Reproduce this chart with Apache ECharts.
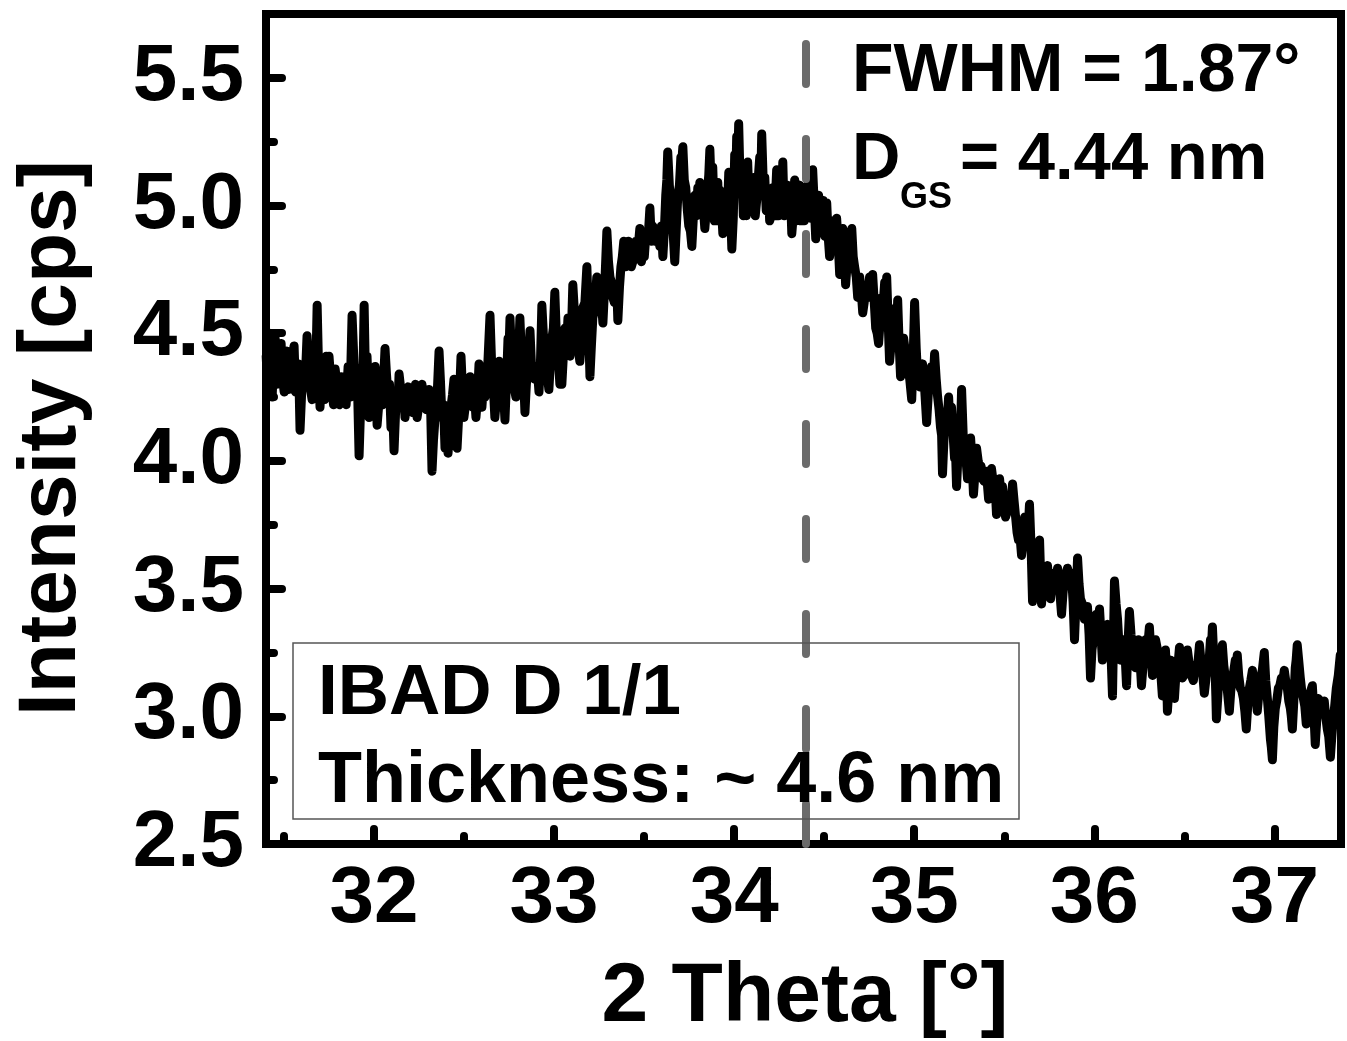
<!DOCTYPE html>
<html>
<head>
<meta charset="utf-8">
<script src="https://cdn.jsdelivr.net/npm/echarts@6/dist/echarts.min.js"></script>
<style>
html,body{margin:0;padding:0;background:#fff;}
#chart{width:1347px;height:1041px;}
</style>
</head>
<body>
<div id="chart"></div>
<script>
// ---- data: spike extremes ----
const theta = [
31.401,31.417,31.434,31.451,31.467,31.484,31.501,31.517,31.534,31.556,
31.573,31.589,31.606,31.628,31.645,31.667,31.684,31.700,31.717,31.734,
31.750,31.767,31.784,31.800,31.817,31.834,31.856,31.878,31.900,31.917,
31.933,31.945,31.961,31.972,31.989,32.006,32.017,32.033,32.061,32.078,
32.094,32.111,32.128,32.139,32.155,32.172,32.189,32.205,32.222,32.239,
32.255,32.277,32.305,32.322,32.339,32.361,32.377,32.394,32.411,32.427,
32.444,32.461,32.483,32.499,32.516,32.533,32.549,32.566,32.583,32.599,
32.616,32.644,32.660,32.671,32.694,32.710,32.727,32.744,32.755,32.771,
32.788,32.810,32.827,32.838,32.855,32.866,32.882,32.899,32.916,32.932,
32.949,32.971,32.988,33.004,33.021,33.032,
33.043,33.060,33.077,33.088,33.104,33.121,33.143,33.160,33.182,33.199,
33.215,33.237,33.254,33.271,33.293,33.310,33.326,33.343,33.354,33.371,
33.387,33.404,33.421,33.437,33.454,33.476,33.493,33.509,33.532,33.548,
33.565,33.587,33.604,33.620,33.631,33.648,33.670,33.687,33.704,33.715,
33.731,33.748,33.765,33.781,33.798,33.809,33.826,33.837,33.853,33.865,
33.881,33.898,33.909,33.920,33.937,33.953,33.970,33.987,34.003,34.014,
34.025,34.042,34.059,34.075,34.092,34.109,34.125,34.142,34.153,34.170,
34.186,34.197,34.214,34.236,34.253,34.270,34.286,34.303,34.320,34.336,
34.353,34.370,34.381,34.397,34.414,34.436,34.453,34.469,34.486,34.503,
34.514,34.530,34.547,34.569,34.586,
34.603,34.619,34.636,34.653,34.669,34.686,34.697,34.714,34.730,34.752,
34.769,34.786,34.802,34.819,34.836,34.847,34.863,34.880,34.897,34.908,
34.924,34.941,34.963,34.986,35.002,35.019,35.030,35.046,35.069,35.085,
35.096,35.113,35.130,35.146,35.157,35.174,35.191,35.207,35.224,35.235,
35.252,35.263,35.280,35.296,35.313,35.329,35.346,35.363,35.379,35.396,
35.413,35.429,35.446,35.457,35.474,35.490,35.507,
35.524,35.546,35.563,35.579,35.596,35.613,35.629,35.640,35.657,35.674,
35.696,35.707,35.723,35.740,35.757,35.773,35.796,35.818,35.834,35.851,
35.873,35.890,35.907,35.923,35.945,35.962,35.979,35.995,36.012,36.029,
36.045,36.062,36.084,36.101,36.112,36.129,36.145,36.162,36.179,36.195,
36.212,36.229,36.245,36.262,36.284,36.306,36.323,36.340,36.362,36.378,
36.395,
36.406,36.423,36.445,36.462,36.473,36.489,36.506,36.517,36.539,36.561,
36.584,36.600,36.611,36.628,36.645,36.656,36.672,36.678,36.695,36.711,
36.728,36.750,36.767,36.783,36.794,36.811,36.828,36.844,36.861,36.878,
36.889,36.905,36.922,36.944,36.961,36.978,36.989,37.005,37.022,37.039,
37.055,37.072,37.089,37.100,37.116,37.127,37.144,37.161,37.177,37.194,
37.211,37.227,37.244,37.261,37.277,37.294,37.311,37.327,37.344,37.366
];
const intensity = [
4.41,4.50,4.25,4.48,4.37,4.46,4.27,4.43,4.35,4.45,
4.33,4.12,4.37,4.49,4.29,4.41,4.61,4.21,4.31,4.41,
4.41,4.27,4.36,4.23,4.33,4.25,4.37,4.57,4.33,4.02,
4.25,4.61,4.41,4.17,4.27,4.37,4.14,4.27,4.44,4.25,
4.13,4.04,4.27,4.34,4.21,4.17,4.29,4.21,4.27,4.17,
4.27,4.23,4.28,3.96,4.17,4.43,4.17,4.05,4.03,4.21,
4.32,4.05,4.41,4.17,4.27,4.33,4.21,4.17,4.38,4.21,
4.25,4.57,4.33,4.17,4.39,4.21,4.16,4.48,4.56,4.33,
4.25,4.56,4.29,4.19,4.37,4.51,4.33,4.37,4.27,4.61,
4.44,4.28,4.48,4.66,4.41,4.30,
4.30,4.52,4.56,4.41,4.69,4.52,4.39,4.60,4.76,4.33,
4.56,4.72,4.64,4.54,4.90,4.72,4.64,4.68,4.55,4.76,
4.86,4.80,4.82,4.78,4.86,4.91,4.82,4.88,4.99,4.92,
4.86,4.84,4.80,5.04,5.21,5.00,4.78,5.04,5.19,5.23,
5.07,4.92,4.84,5.04,5.07,5.09,5.00,4.91,5.07,5.22,
5.15,5.04,5.09,5.06,4.89,5.04,5.13,4.83,5.20,5.27,
5.32,5.15,5.07,5.17,5.02,5.11,5.02,5.19,5.28,5.11,
5.04,4.94,5.07,5.14,5.09,5.17,5.04,4.98,4.89,5.10,
5.04,4.94,5.07,4.98,5.06,5.14,4.87,5.04,5.00,4.88,
5.01,4.80,4.94,4.95,4.73,
4.91,4.69,4.84,4.91,4.76,4.64,4.72,4.58,4.68,4.72,
4.73,4.52,4.46,4.64,4.70,4.72,4.39,4.52,4.60,4.63,
4.33,4.48,4.37,4.24,4.62,4.33,4.29,4.38,4.15,4.33,
4.37,4.42,4.25,4.13,3.95,4.17,4.25,4.21,4.01,3.90,
4.17,4.28,4.05,3.93,4.09,3.87,4.05,3.97,3.93,3.96,
3.85,3.97,3.89,3.79,3.93,3.90,3.78,
3.85,3.91,3.78,3.69,3.63,3.78,3.74,3.83,3.45,3.62,
3.69,3.44,3.54,3.59,3.46,3.56,3.58,3.40,3.54,3.58,
3.56,3.30,3.62,3.46,3.38,3.43,3.15,3.30,3.40,3.42,
3.22,3.34,3.30,3.08,3.53,3.38,3.22,3.30,3.12,3.41,
3.26,3.19,3.30,3.12,3.30,3.35,3.16,3.30,3.22,3.08,
3.26,
3.02,3.22,3.07,3.19,3.27,3.15,3.22,3.26,3.16,3.20,
3.28,3.19,3.09,3.22,3.30,3.35,3.15,2.99,3.19,3.28,
3.15,3.02,3.15,3.22,3.24,3.11,3.07,2.95,3.11,3.18,
3.15,3.02,3.15,3.25,3.07,2.91,2.83,3.03,3.11,3.15,
3.18,3.11,3.03,2.95,3.19,3.28,3.15,3.07,2.97,3.07,
3.12,2.89,3.07,3.05,3.06,2.95,2.84,2.99,3.11,3.24
];
// ---- data: the dense band between the spikes ----
const thetaBand = [
31.409,31.426,31.442,31.459,31.476,31.492,31.509,31.526,31.545,31.564,
31.581,31.597,31.617,31.636,31.656,31.676,31.692,31.708,31.725,31.742,
31.758,31.775,31.792,31.808,31.825,31.845,31.867,31.889,31.908,31.925,
31.939,31.953,31.967,31.980,31.997,32.011,32.025,32.047,32.069,32.086,
32.103,32.119,32.133,32.147,32.164,32.180,32.197,32.214,32.230,32.247,
32.266,32.291,32.313,32.330,32.350,32.369,32.386,32.402,32.419,32.436,
32.452,32.472,32.491,32.508,32.524,32.541,32.558,32.574,32.591,32.608,
32.630,32.652,32.666,32.683,32.702,32.719,32.735,32.749,32.763,32.780,
32.799,32.819,32.832,32.846,32.860,32.874,32.891,32.907,32.924,32.940,
32.960,32.979,32.996,33.012,33.027,33.038,33.052,33.069,33.083,33.096,
33.113,33.132,33.152,33.171,33.191,33.207,33.226,33.246,33.263,33.282,
33.302,33.318,33.335,33.349,33.363,33.379,33.396,33.413,33.429,33.446,
33.465,33.485,33.501,33.521,33.540,33.557,33.576,33.596,33.612,33.626,
33.640,33.659,33.679,33.696,33.710,33.723,33.740,33.757,33.773,33.790,
33.804,33.818,33.832,33.845,33.859,33.873,33.890,33.904,33.915,33.929,
33.945,33.962,33.979,33.995,34.009,34.020,34.034,34.051,34.067,34.084,
34.101,34.117,34.134,34.148,34.162,34.178,34.192,34.206,34.225,34.245,
34.262,34.278,34.295,34.312,34.328,34.345,34.362,34.376,34.389,34.406,
34.425,34.445,34.461,34.478,34.495,34.509,34.522,34.539,34.558,34.578,
34.595,34.611,34.628,34.645,34.661,34.678,34.692,34.706,34.722,34.741,
34.761,34.778,34.794,34.811,34.828,34.842,34.855,34.872,34.889,34.903,
34.916,34.933,34.952,34.975,34.994,35.011,35.025,35.038,35.058,35.077,
35.091,35.105,35.122,35.138,35.152,35.166,35.183,35.199,35.216,35.230,
35.244,35.258,35.272,35.288,35.305,35.321,35.338,35.355,35.371,35.388,
35.405,35.421,35.438,35.452,35.466,35.482,35.499,35.516,35.535,35.555,
35.571,35.588,35.605,35.621,35.635,35.649,35.666,35.685,35.702,35.715,
35.732,35.749,35.765,35.785,35.807,35.826,35.843,35.862,35.882,35.899,
35.915,35.934,35.954,35.971,35.987,36.004,36.021,36.037,36.054,36.073,
36.093,36.107,36.121,36.137,36.154,36.171,36.187,36.204,36.221,36.237,
36.254,36.273,36.295,36.315,36.332,36.351,36.370,36.387,36.401,36.415,
36.434,36.453,36.467,36.481,36.497,36.511,36.528,36.550,36.572,36.592,
36.605,36.619,36.636,36.650,36.664,36.675,36.686,36.703,36.719,36.739,
36.758,36.775,36.789,36.802,36.819,36.836,36.852,36.869,36.883,36.897,
36.913,36.933,36.952,36.969,36.983,36.997,37.013,37.030,37.047,37.063,
37.080,37.094,37.108,37.121,37.135,37.152,37.169,37.185,37.202,37.219,
37.235,37.252,37.269,37.285,37.302,37.319,37.335,37.355
];
const intensityBand = [
4.30,4.36,4.38,4.30,4.40,4.32,4.38,4.28,4.40,4.27,
4.38,4.25,4.30,4.40,4.24,4.33,4.36,4.32,4.24,4.27,
4.33,4.22,4.31,4.22,4.30,4.22,4.25,4.38,4.30,4.20,
4.35,4.30,4.30,4.21,4.24,4.30,4.21,4.22,4.34,4.30,
4.22,4.18,4.22,4.29,4.27,4.22,4.26,4.19,4.30,4.21,
4.30,4.20,4.25,4.08,4.25,4.31,4.22,4.15,4.12,4.26,
4.20,4.20,4.28,4.22,4.23,4.28,4.26,4.24,4.30,4.30,
4.35,4.40,4.24,4.27,4.30,4.27,4.30,4.42,4.42,4.28,
4.33,4.40,4.30,4.30,4.42,4.38,4.32,4.36,4.38,4.50,
4.35,4.38,4.52,4.50,4.36,4.38,4.42,4.45,4.48,4.50,
4.58,4.45,4.48,4.62,4.55,4.45,4.60,4.60,4.62,4.70,
4.78,4.70,4.62,4.66,4.68,4.80,4.76,4.86,4.76,4.84,
4.82,4.78,4.80,4.86,4.86,4.90,4.90,4.92,4.90,5.10,
5.08,4.92,4.92,5.08,5.18,5.10,4.98,4.90,4.95,4.96,
4.98,5.04,4.96,4.98,5.12,5.06,4.94,4.94,4.94,5.00,
4.95,4.96,5.00,4.95,5.10,5.15,5.06,4.96,4.96,4.98,
5.00,4.96,5.02,5.10,5.08,4.98,5.06,4.96,4.96,4.96,
4.97,4.96,5.08,5.06,4.96,4.94,5.08,4.96,4.94,5.08,
4.95,5.00,5.02,4.92,5.02,4.95,4.88,4.86,4.88,4.85,
4.80,4.82,4.78,4.82,4.80,4.72,4.66,4.66,4.62,4.64,
4.66,4.62,4.50,4.55,4.62,4.60,4.55,4.46,4.50,4.52,
4.46,4.40,4.42,4.32,4.40,4.44,4.30,4.33,4.28,4.25,
4.30,4.30,4.32,4.20,4.10,4.10,4.16,4.12,4.10,4.02,
4.04,4.15,4.10,4.00,3.98,4.00,3.96,4.00,3.98,3.92,
3.92,3.90,3.92,3.86,3.84,3.86,3.83,3.80,3.82,3.84,
3.72,3.70,3.68,3.72,3.76,3.66,3.56,3.62,3.55,3.52,
3.56,3.52,3.52,3.53,3.50,3.48,3.54,3.52,3.45,3.46,
3.52,3.44,3.42,3.32,3.26,3.36,3.36,3.32,3.30,3.36,
3.24,3.32,3.44,3.28,3.26,3.24,3.28,3.32,3.24,3.26,
3.22,3.22,3.26,3.24,3.24,3.26,3.16,3.18,3.18,3.12,
3.16,3.16,3.22,3.20,3.16,3.18,3.20,3.14,3.18,3.22,
3.14,3.14,3.20,3.26,3.22,3.08,3.08,3.20,3.20,3.10,
3.10,3.18,3.20,3.16,3.10,3.02,3.04,3.14,3.14,3.08,
3.08,3.18,3.14,3.00,2.88,2.96,3.06,3.12,3.14,3.14,
3.06,3.00,3.06,3.22,3.22,3.10,3.04,3.02,3.10,3.02,
2.98,3.06,3.04,3.00,2.92,2.92,3.04,3.16
];
const xMajorTicks = [32, 33, 34, 35, 36, 37];
const xMinorTicks = [31.5, 32.5, 33.5, 34.5, 35.5, 36.5];
const yMajorTicks = [2.5, 3.0, 3.5, 4.0, 4.5, 5.0, 5.5];
const yMinorTicks = [2.75, 3.25, 3.75, 4.25, 4.75, 5.25];
const xRange = [31.4, 37.37];
const yRange = [2.5, 5.75];
const peakLine = 34.4;
const xTitle = '2 Theta [°]';
const yTitle = 'Intensity [cps]';
const fwhmText = 'FWHM = 1.87°';
const sizeMain = 'D';
const sizeSub = 'GS';
const sizeValue = '= 4.44 nm';
const sampleName = 'IBAD D 1/1';
const sampleThickness = 'Thickness: ~ 4.6 nm';

// ---- chart ----
const FONT = '"Liberation Sans", Arial, Helvetica, sans-serif';
const points = theta.map((t, i) => [t, intensity[i]])
  .concat(thetaBand.map((t, i) => [t, intensityBand[i]]))
  .sort((a, b) => a[0] - b[0]);
const chart = echarts.init(document.getElementById('chart'), null, {renderer: 'canvas'});

function txt(x, y, text, size, align) {
  align = align || 'left';
  return {
    type: 'text', x: x, y: y, z: 100,
    style: {
      text: text, fill: '#000',
      font: 'bold ' + size + 'px ' + FONT,
      textAlign: align, align: align,
      textVerticalAlign: 'middle', verticalAlign: 'middle'
    }
  };
}

const labelStyle = {color: '#000', fontFamily: FONT, fontWeight: 'bold', fontSize: 80};
const tickLine = {color: '#000', width: 8, cap: 'round'};

chart.setOption({
  animation: false,
  backgroundColor: '#fff',
  grid: {left: 266, right: 6, top: 14, bottom: 197, show: true,
         borderColor: '#000', borderWidth: 8, backgroundColor: 'transparent'},
  xAxis: [{
    type: 'value', min: xRange[0], max: xRange[1], position: 'bottom',
    axisLine: {show: false}, splitLine: {show: false},
    axisTick: {show: true, inside: true, length: 15, customValues: xMajorTicks, lineStyle: tickLine},
    axisLabel: Object.assign({margin: 16, customValues: xMajorTicks,
               formatter: v => String(Math.round(v))}, labelStyle)
  }, {
    type: 'value', min: xRange[0], max: xRange[1], position: 'bottom',
    axisLine: {show: false}, splitLine: {show: false},
    axisTick: {show: true, inside: true, length: 8, customValues: xMinorTicks, lineStyle: tickLine},
    axisLabel: {show: false}
  }],
  yAxis: [{
    type: 'value', min: yRange[0], max: yRange[1], position: 'left',
    axisLine: {show: false}, splitLine: {show: false},
    axisTick: {show: true, inside: true, length: 16, customValues: yMajorTicks, lineStyle: tickLine},
    axisLabel: Object.assign({margin: 22, customValues: yMajorTicks,
               formatter: v => v.toFixed(1)}, labelStyle)
  }, {
    type: 'value', min: yRange[0], max: yRange[1], position: 'left',
    axisLine: {show: false}, splitLine: {show: false},
    axisTick: {show: true, inside: true, length: 8, customValues: yMinorTicks, lineStyle: tickLine},
    axisLabel: {show: false}
  }],
  series: [{
    type: 'line', xAxisIndex: 0, yAxisIndex: 0,
    data: points, showSymbol: false, symbol: 'none',
    lineStyle: {color: '#000', width: 9, join: 'round', cap: 'round'},
    markLine: {
      silent: true, symbol: ['none', 'none'], label: {show: false},
      lineStyle: {color: '#6b6b6b', width: 8, type: [40, 55], cap: 'round'},
      emphasis: {disabled: true},
      data: [{xAxis: peakLine}]
    }
  }],
  graphic: [
    {type: 'rect', z: 90, shape: {x: 293, y: 643, width: 726, height: 176},
     style: {fill: 'none', stroke: '#555', lineWidth: 1.5}},
    txt(318, 694, sampleName, 71),
    txt(318, 782, sampleThickness, 72),
    txt(852, 72, fwhmText, 68),
    txt(852, 161, sizeMain, 67),
    txt(900, 198, sizeSub, 36),
    txt(960, 161, sizeValue, 67),
    txt(805, 998, xTitle, 84, 'center'),
    {type: 'text', x: 52, y: 438, rotation: Math.PI / 2, z: 100,
     style: {text: yTitle, fill: '#000', font: 'bold 82px ' + FONT,
             textAlign: 'center', align: 'center',
             textVerticalAlign: 'middle', verticalAlign: 'middle'}}
  ]
});
</script>
</body>
</html>
